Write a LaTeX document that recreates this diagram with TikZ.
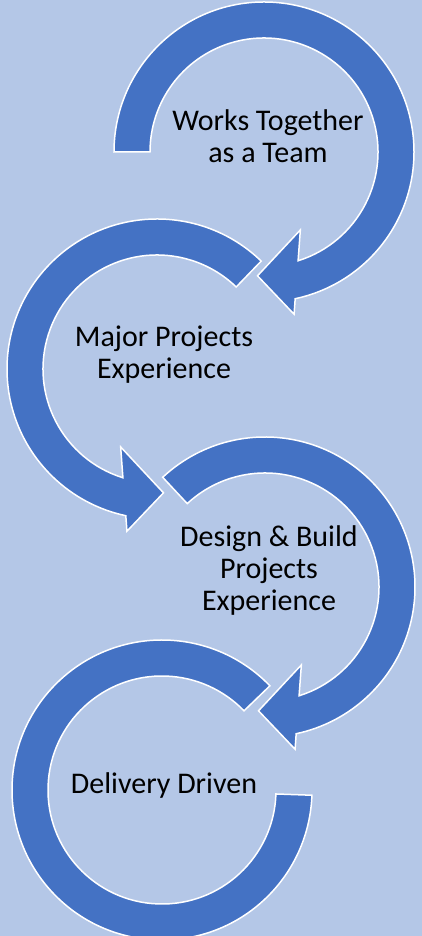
\documentclass[tikz,border=0pt]{standalone}
\usepackage{fontspec}
\setmainfont{Carlito}
\usetikzlibrary{calc}

\definecolor{bgblue}{HTML}{B4C7E7}
\definecolor{arrowblue}{HTML}{4472C4}

\tikzset{
  band/.style={fill=arrowblue, draw=white, line width=1.5pt, line join=miter},
  steptext/.style={align=center, inner sep=0pt, font=\fontsize{30}{32}\selectfont}
}

\begin{document}
\begin{tikzpicture}[x=1pt,y=1pt]

% Light blue background
\fill [bgblue] (0,0) rectangle (422,936);
\useasboundingbox (0,0) rectangle (422,936);

 \coordinate (c1) at (264,784);
 \coordinate (c2) at (157,567);
 \coordinate (c3) at (265,349);
 \coordinate (c4) at (162,146);

 \draw[band] ($(c1)+(180:150)$) arc[start angle=180,end angle=-78,radius=150]
   -- ($(c1)+(-79.5:165)$) -- ($(c1)+(-93:124)$) -- ($(c1)+(-65:86)$)
   -- ($(c1)+(-72.6:114)$) arc[start angle=-72.6,end angle=180,radius=114] -- cycle;
 \draw[band] ($(c2)+(46:150)$) arc[start angle=46,end angle=258,radius=150]
   -- ($(c2)+(-100.5:165)$) -- ($(c2)+(-87:124)$) -- ($(c2)+(-115:86)$)
   -- ($(c2)+(-107.4:114)$) arc[start angle=252.6,end angle=46,radius=114] -- cycle;
 \draw[band] ($(c3)+(133:150)$) arc[start angle=133,end angle=-78,radius=150]
   -- ($(c3)+(-79.5:165)$) -- ($(c3)+(-93:124)$) -- ($(c3)+(-65:86)$)
   -- ($(c3)+(-72.6:114)$) arc[start angle=-72.6,end angle=133,radius=114] -- cycle;
 % Last circle has no arrow head
 \draw[band] ($(c4)+(44:150)$) arc[start angle=44,end angle=358,radius=150]
   -- ($(c4)+(358:114)$) arc[start angle=358,end angle=44,radius=114] -- cycle;

 \node[steptext] (team) at (268,800) {Works Together\\as a Team};
 \node[steptext] (major) at (164,581.5) {Major Projects\\Experience};
 \node[steptext] (design) at (269,365.5) {Design \& Build\\Projects\\Experience};
 \node[steptext] (delivery) at (164,150.5) {Delivery Driven};

\end{tikzpicture}
\end{document}
